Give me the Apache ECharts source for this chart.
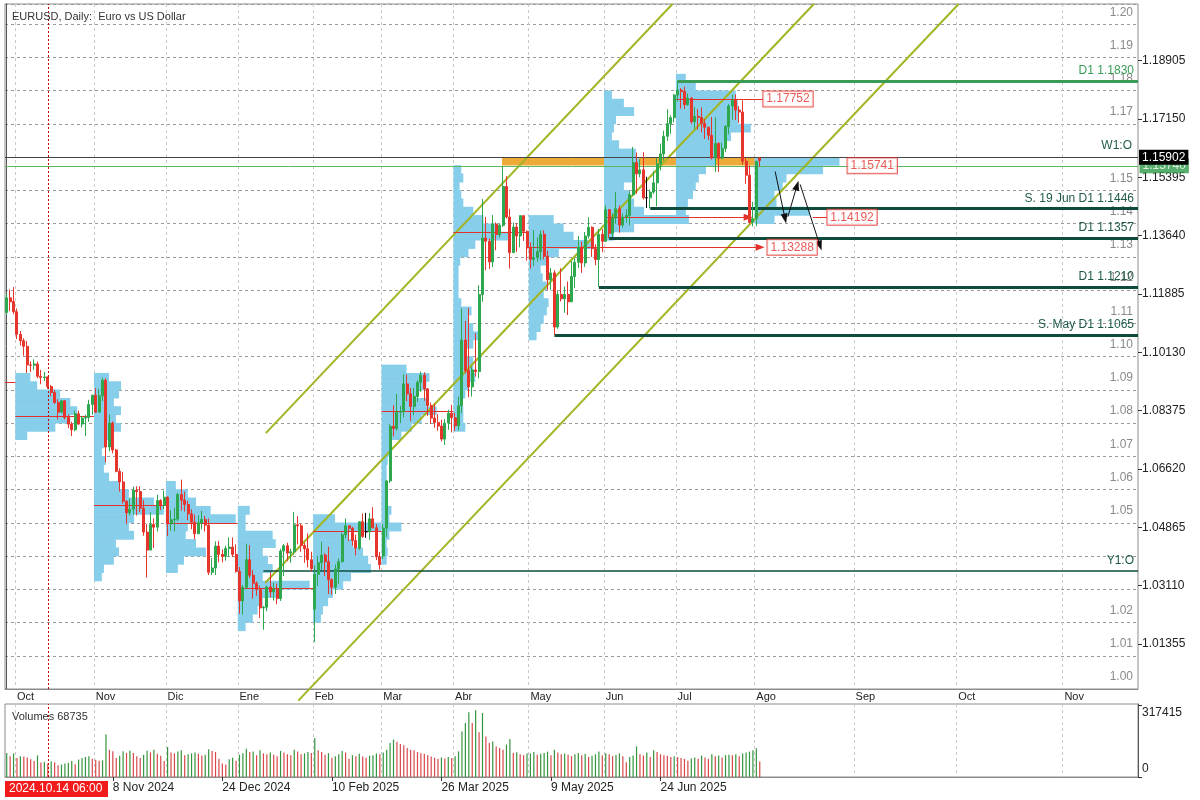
<!DOCTYPE html>
<html>
<head>
<meta charset="utf-8">
<title>EURUSD Daily</title>
<script src="https://cdn.jsdelivr.net/npm/echarts@6.0.0/dist/echarts.min.js"></script>
<style>
html,body{margin:0;padding:0;background:#ffffff;}
#chart{width:1200px;height:800px;}
</style>
</head>
<body>
<div id="chart"></div>
<script>
// ---------------- categories ----------------
const tradeStart = '2024-09-26';
const tradeEnd = '2025-08-04';
const holidays = ['2024-12-25', '2025-01-01'];
const futureStart = '2025-08-05';
const futureEnd = '2025-11-22';
const esMonths = ['Ene','Feb','Mar','Abr','May','Jun','Jul','Ago','Sep','Oct','Nov','Dic'];
const enMonths = ['Jan','Feb','Mar','Apr','May','Jun','Jul','Aug','Sep','Oct','Nov','Dec'];
const volLabelDates = ['2024-11-08','2024-12-24','2025-02-10','2025-03-26','2025-05-09','2025-06-24'];
const crosshairDate = '2024-10-14';
const crosshairText = '2024.10.14 06:00';

// ---------------- tick labels ----------------
const priceTicksRight = [1.01355,1.03110,1.04865,1.06620,1.08375,1.10130,1.11885,1.13640,1.15395,1.17150,1.18905];
const hiddenGridLabels = [1.16, 1.04, 1.03];
const volumeTicks = [0, 317415];
const volumeTitle = 'Volumes 68735';

// ---------------- daily OHLC [open, high, low, close] ----------------
const ohlc = [
// Sep 2024
[1.1133,1.1190,1.1125,1.1177],[1.1177,1.1202,1.1137,1.1165],[1.1166,1.1209,1.1128,1.1135],
// Oct 2024
[1.1135,1.1145,1.1053,1.1067],[1.1067,1.1077,1.1033,1.1048],[1.1048,1.1055,1.1003,1.1031],[1.1031,1.1047,1.0951,1.0975],
[1.0975,1.0986,1.0954,1.0974],[1.0974,1.0992,1.0960,1.0978],[1.0978,1.0985,1.0935,1.0941],[1.0941,1.0960,1.0917,1.0937],
[1.0937,1.0954,1.0927,1.0939],[1.0939,1.0940,1.0903,1.0910],[1.0910,1.0915,1.0881,1.0892],[1.0892,1.0900,1.0858,1.0862],
[1.0862,1.0872,1.0811,1.0833],[1.0833,1.0870,1.0830,1.0867],[1.0867,1.0868,1.0811,1.0817],[1.0817,1.0826,1.0785,1.0797],
[1.0797,1.0804,1.0761,1.0780],[1.0780,1.0838,1.0775,1.0828],[1.0828,1.0838,1.0795,1.0797],[1.0797,1.0822,1.0787,1.0815],
[1.0815,1.0825,1.0761,1.0817],[1.0817,1.0870,1.0804,1.0856],[1.0856,1.0885,1.0825,1.0884],
// Nov 2024
[1.0884,1.0905,1.0831,1.0833],[1.0833,1.0903,1.0833,1.0882],[1.0882,1.0937,1.0866,1.0929],[1.0929,1.0935,1.0682,1.0728],
[1.0728,1.0826,1.0715,1.0800],[1.0800,1.0805,1.0709,1.0719],[1.0719,1.0722,1.0652,1.0655],[1.0655,1.0664,1.0594,1.0623],
[1.0623,1.0653,1.0558,1.0565],[1.0565,1.0567,1.0496,1.0530],[1.0530,1.0573,1.0522,1.0541],[1.0541,1.0609,1.0524,1.0598],
[1.0598,1.0610,1.0522,1.0594],[1.0594,1.0610,1.0532,1.0544],[1.0544,1.0568,1.0461,1.0472],[1.0472,1.0496,1.0335,1.0418],
[1.0418,1.0532,1.0418,1.0495],[1.0495,1.0513,1.0424,1.0487],[1.0487,1.0585,1.0474,1.0567],[1.0567,1.0571,1.0538,1.0552],
[1.0552,1.0597,1.0541,1.0577],
// Dec 2024
[1.0577,1.0580,1.0460,1.0497],[1.0497,1.0538,1.0476,1.0509],[1.0509,1.0545,1.0474,1.0511],[1.0511,1.0590,1.0505,1.0585],
[1.0585,1.0630,1.0537,1.0568],[1.0568,1.0594,1.0534,1.0555],[1.0555,1.0566,1.0508,1.0527],[1.0527,1.0541,1.0481,1.0502],
[1.0502,1.0525,1.0450,1.0467],[1.0467,1.0523,1.0467,1.0500],[1.0500,1.0536,1.0480,1.0510],[1.0510,1.0521,1.0474,1.0493],
[1.0493,1.0513,1.0343,1.0351],[1.0351,1.0394,1.0343,1.0364],[1.0364,1.0444,1.0343,1.0430],[1.0430,1.0445,1.0381,1.0405],
[1.0405,1.0420,1.0381,1.0399],[1.0399,1.0431,1.0386,1.0423],[1.0423,1.0456,1.0398,1.0427],[1.0427,1.0456,1.0397,1.0405],
[1.0405,1.0435,1.0350,1.0354],
// Jan 2025
[1.0354,1.0367,1.0226,1.0265],[1.0265,1.0313,1.0224,1.0306],[1.0306,1.0437,1.0300,1.0389],[1.0389,1.0433,1.0334,1.0342],
[1.0342,1.0358,1.0272,1.0318],[1.0318,1.0324,1.0281,1.0299],[1.0299,1.0311,1.0214,1.0244],[1.0244,1.0250,1.0178,1.0246],
[1.0246,1.0311,1.0234,1.0307],[1.0307,1.0351,1.0276,1.0292],[1.0292,1.0320,1.0266,1.0301],[1.0301,1.0317,1.0255,1.0272],
[1.0272,1.0422,1.0265,1.0415],[1.0415,1.0436,1.0340,1.0431],[1.0431,1.0440,1.0385,1.0409],[1.0409,1.0422,1.0380,1.0413],
[1.0413,1.0533,1.0404,1.0494],[1.0494,1.0520,1.0435,1.0491],[1.0491,1.0497,1.0413,1.0432],[1.0432,1.0440,1.0380,1.0422],
[1.0422,1.0468,1.0366,1.0389],[1.0389,1.0413,1.0354,1.0362],
// Feb 2025
[1.0240,1.0372,1.0141,1.0345],[1.0345,1.0400,1.0310,1.0380],[1.0380,1.0443,1.0358,1.0403],[1.0403,1.0408,1.0340,1.0383],
[1.0383,1.0428,1.0286,1.0329],[1.0329,1.0333,1.0284,1.0306],[1.0306,1.0375,1.0286,1.0361],[1.0361,1.0393,1.0316,1.0383],
[1.0383,1.0470,1.0381,1.0464],[1.0464,1.0513,1.0453,1.0491],[1.0491,1.0492,1.0445,1.0484],[1.0484,1.0488,1.0431,1.0447],
[1.0447,1.0464,1.0402,1.0424],[1.0424,1.0505,1.0418,1.0503],[1.0503,1.0528,1.0455,1.0459],[1.0473,1.0530,1.0455,1.0473],
[1.0473,1.0529,1.0449,1.0512],[1.0512,1.0547,1.0483,1.0485],[1.0485,1.0496,1.0388,1.0398],[1.0398,1.0412,1.0359,1.0374],
// Mar 2025
[1.0400,1.0497,1.0391,1.0484],[1.0484,1.0629,1.0457,1.0626],[1.0626,1.0797,1.0620,1.0790],[1.0790,1.0854,1.0760,1.0784],
[1.0784,1.0888,1.0777,1.0833],[1.0833,1.0852,1.0800,1.0834],[1.0834,1.0947,1.0817,1.0918],[1.0918,1.0946,1.0866,1.0888],
[1.0888,1.0906,1.0806,1.0850],[1.0850,1.0906,1.0824,1.0880],[1.0880,1.0929,1.0863,1.0923],[1.0923,1.0955,1.0894,1.0944],
[1.0944,1.0953,1.0867,1.0903],[1.0903,1.0906,1.0822,1.0853],[1.0853,1.0862,1.0797,1.0815],[1.0815,1.0859,1.0786,1.0802],
[1.0802,1.0827,1.0777,1.0791],[1.0791,1.0810,1.0745,1.0752],[1.0752,1.0812,1.0734,1.0800],[1.0800,1.0840,1.0780,1.0830],
[1.0830,1.0855,1.0772,1.0816],
// Apr 2025
[1.0816,1.0831,1.0777,1.0792],[1.0792,1.0880,1.0778,1.0852],[1.0852,1.1145,1.0830,1.1050],[1.1050,1.1107,1.0950,1.0958],
[1.0958,1.1146,1.0878,1.0909],[1.0909,1.0970,1.0880,1.0960],[1.0960,1.1070,1.0940,1.0955],[1.0955,1.1215,1.0935,1.1187],
[1.1187,1.1474,1.1165,1.1357],[1.1357,1.1420,1.1260,1.1347],[1.1347,1.1356,1.1264,1.1285],[1.1285,1.1426,1.1269,1.1398],
[1.1398,1.1404,1.1320,1.1367],[1.1367,1.1400,1.1358,1.1395],[1.1395,1.1573,1.1390,1.1512],[1.1512,1.1543,1.1416,1.1420],
[1.1420,1.1445,1.1265,1.1313],[1.1313,1.1403,1.1313,1.1390],[1.1390,1.1402,1.1315,1.1363],[1.1363,1.1425,1.1329,1.1424],
[1.1424,1.1425,1.1348,1.1377],[1.1377,1.1380,1.1289,1.1327],
// May 2025
[1.1327,1.1344,1.1265,1.1293],[1.1293,1.1381,1.1273,1.1298],[1.1298,1.1359,1.1286,1.1316],[1.1316,1.1380,1.1290,1.1368],
[1.1368,1.1380,1.1293,1.1302],[1.1302,1.1318,1.1201,1.1231],[1.1231,1.1267,1.1201,1.1252],[1.1252,1.1260,1.1065,1.1089],
[1.1089,1.1197,1.1084,1.1187],[1.1187,1.1266,1.1166,1.1174],[1.1174,1.1211,1.1132,1.1187],[1.1187,1.1226,1.1125,1.1165],
[1.1165,1.1288,1.1165,1.1241],[1.1241,1.1296,1.1206,1.1284],[1.1284,1.1363,1.1267,1.1329],[1.1329,1.1346,1.1252,1.1282],
[1.1282,1.1375,1.1270,1.1363],[1.1363,1.1419,1.1355,1.1389],[1.1389,1.1392,1.1300,1.1325],[1.1325,1.1338,1.1275,1.1292],
[1.1292,1.1384,1.1210,1.1368],[1.1368,1.1384,1.1315,1.1347],
// Jun 2025
[1.1347,1.1455,1.1345,1.1442],[1.1442,1.1444,1.1357,1.1371],[1.1371,1.1431,1.1360,1.1417],[1.1417,1.1495,1.1400,1.1445],
[1.1445,1.1455,1.1373,1.1396],[1.1396,1.1431,1.1388,1.1420],[1.1420,1.1444,1.1403,1.1425],[1.1425,1.1498,1.1395,1.1487],
[1.1487,1.1631,1.1484,1.1584],[1.1584,1.1614,1.1490,1.1550],[1.1550,1.1593,1.1540,1.1562],[1.1562,1.1615,1.1473,1.1478],
[1.1478,1.1541,1.1447,1.1478],[1.1478,1.1503,1.1446,1.1495],[1.1495,1.1558,1.1490,1.1523],[1.1523,1.1597,1.1452,1.1580],
[1.1580,1.1641,1.1560,1.1610],[1.1610,1.1680,1.1590,1.1663],[1.1663,1.1744,1.1649,1.1701],[1.1701,1.1726,1.1670,1.1719],
[1.1719,1.1790,1.1705,1.1787],
// Jul 2025
[1.1787,1.1830,1.1767,1.1802],[1.1802,1.1808,1.1746,1.1798],[1.1798,1.1812,1.1745,1.1758],[1.1758,1.1792,1.1755,1.1778],
[1.1778,1.1780,1.1700,1.1707],[1.1707,1.1751,1.1684,1.1723],[1.1723,1.1745,1.1683,1.1720],[1.1720,1.1750,1.1675,1.1702],
[1.1702,1.1715,1.1655,1.1690],[1.1690,1.1692,1.1652,1.1666],[1.1666,1.1721,1.1593,1.1598],[1.1598,1.1720,1.1556,1.1641],
[1.1641,1.1645,1.1556,1.1597],[1.1597,1.1644,1.1594,1.1626],[1.1626,1.1697,1.1615,1.1692],[1.1692,1.1760,1.1669,1.1754],
[1.1754,1.1788,1.1713,1.1771],[1.1771,1.1789,1.1712,1.1742],[1.1742,1.1754,1.1703,1.1736],[1.1736,1.1771,1.1577,1.1588],
[1.1588,1.1601,1.1520,1.1546],[1.1546,1.1575,1.1400,1.1404],[1.1404,1.1466,1.1392,1.1415],
// Aug 2025
[1.1415,1.1590,1.1392,1.1587],[1.1598,1.1600,1.1572,1.15902]
];

// ---------------- daily tick volumes ----------------
const volumes = [
106000,91000,104000,
84000,92000,90000,86000,78000,70000,95000,64000,66000,60000,69000,65000,52000,55000,60000,63000,70000,56000,77000,84000,88000,92000,80000,
76000,72000,74000,187000,120000,113000,84000,94000,113000,106000,116000,106000,91000,84000,98000,116000,109000,120000,102000,94000,70000,
132000,108000,104000,112000,118000,96000,100000,104000,108000,103000,95000,98000,122000,115000,110000,80000,60000,55000,78000,85000,72000,
98000,105000,125000,110000,112000,96000,118000,104000,100000,108000,98000,92000,115000,108000,100000,96000,120000,112000,100000,104000,110000,106000,
172000,118000,110000,98000,105000,85000,92000,100000,115000,108000,80000,96000,92000,102000,90000,85000,94000,96000,104000,100000,
108000,120000,150000,165000,155000,145000,140000,128000,120000,118000,110000,105000,102000,96000,90000,85000,80000,86000,82000,88000,84000,
91000,113000,201000,238000,285000,238000,294000,197000,282000,179000,150000,157000,135000,128000,120000,143000,168000,106000,109000,100000,96000,104000,
104000,110000,98000,102000,106000,112000,96000,120000,108000,100000,104000,98000,92000,100000,106000,96000,102000,88000,94000,100000,112000,96000,
105000,100000,92000,97000,104000,91000,65000,88000,95000,135000,100000,95000,108000,88000,118000,110000,100000,96000,94000,88000,92000,
88000,84000,80000,72000,82000,86000,80000,94000,86000,80000,100000,92000,95000,86000,96000,98000,96000,100000,92000,104000,108000,112000,118000,
127000,68735
];

// ---------------- monthly volume profiles (bin widths in bars, bins of PROFILE_STEP) ----------------
const PROFILE_STEP = 0.0025;
const profileStarts = ['2024-10-01','2024-11-01','2024-12-02','2025-01-02','2025-02-03','2025-03-03','2025-04-01','2025-05-01','2025-06-02','2025-07-01','2025-08-01'];
const profileLows = [1.075,1.0325,1.035,1.0175,1.02,1.0375,1.0775,1.105,1.135,1.14,1.14];
const profileWidths = [
[3.5,11.7,16.1,18.1,16.1,13.1,6.4,4.4],
[2.3,2.9,5.8,7.3,6.4,11.7,10.2,11.7,20.4,17.5,10.2,7.3,4.4,2.9,3.5,2.3,2.9,5.8,7.9,6.4,7.9,5.8,7.3,7.9,4.4],
[3.5,5.3,11.7,8.8,5.8,6.4,20.4,13.1,8.8,6.4,2.9],
[2.3,4.4,5.8,7.3,11.7,21.0,7.3,10.2,8.8,7.3,11.1,10.2,2.3,2.3,3.5],
[2.3,2.9,4.4,5.8,8.8,11.1,16.9,16.1,14.6,11.7,10.2,19.9,6.4],
[1.5,1.8,1.5,2.3,5.8,2.3,2.9,1.8,1.5,1.5,1.5,1.5,1.8,2.3,2.9,5.8,8.8,11.7,16.1,13.1,10.2,13.1,14.0,7.3],
[3.5,2.9,2.9,2.3,3.5,4.4,6.4,5.8,5.8,3.5,5.8,7.3,5.8,4.4,5.3,2.3,1.5,1.5,1.5,1.5,2.0,4.4,6.4,16.1,13.1,8.8,5.8,2.9,2.3,1.8,2.9,2.3],
[2.3,3.5,4.4,5.3,5.8,4.4,5.3,4.1,3.5,5.3,8.8,19.0,13.1,10.2,7.3],
[2.9,8.8,24.8,11.7,8.8,7.3,5.8,8.8,8.8,10.2,9.3,4.4,2.3,2.9,3.5,8.8,5.8,2.3],
[2.3,2.9,3.5,5.0,5.8,6.7,8.8,11.7,13.1,14.0,16.1,21.9,18.1,18.4,18.1,17.5,5.8,2.9],
[5.8,16.1,6.4,5.8,8.2,9.3,20.0,24.8]
];

// monthly points of control
const pocStarts = ['2024-09-26','2024-10-01','2024-11-01','2024-12-02','2025-01-02','2025-02-03','2025-03-03','2025-04-01'];
const pocPrices = [1.0924,1.0820,1.0552,1.0499,1.0302,1.0475,1.0837,1.1374];
// naked POC drawings
const nakedPocStarts = ['2025-05-01','2025-06-02','2025-07-01','2025-08-01'];
const nakedPocPrices = [1.13288,1.14192,1.17752,1.15741];
const nakedPocEnds = [220.1,216.6,220.9,245.5];
const nakedPocArrow = [true,true,false,false];
const pocBoxAt = [222.1,239.6,220.9,245.5];

// support / reference levels
const levelLabels = ['D1 1.1830','S. 19 Jun D1 1.1446','D1 1.1357','D1 1.1210','S. May D1 1.1065','Y1:O'];
const levelPrices = [1.1830,1.1446,1.1357,1.1210,1.1065,1.0357];
const levelStarts = ['2025-07-01','2025-06-19','2025-06-03','2025-05-29','2025-05-12','2025-01-13'];

// channel drawing anchors [barIndex, price]
const channelUpper = [[75.7,1.0770],[194.5,1.2061]];
const channelMiddle = [[75.5,1.0319],[235.8,1.2061]];
const channelLower = [[85.2,0.9965],[278.1,1.2061]];
// zone drawing
const zoneBars = [144.7,229.4];
const zonePrices = [1.1575,1.1600];
// scenario arrows [bar1, price1, bar2, price2]
const arrowSegments = [[224.5,1.1557,227.4,1.1415],[228.2,1.1421,230.9,1.1515],[231.8,1.1518,237.6,1.1334]];
const connector1419 = [235.5,239.6];
const lastPrice = 1.15902;
const weekLine = 1.1574;

// ---------------- build categories ----------------
function ymd(d){ return d.toISOString().slice(0,10); }
const cats = [];
for (let d = new Date(tradeStart+'T00:00:00Z'); ymd(d) <= tradeEnd; d.setUTCDate(d.getUTCDate()+1)) {
  const wd = d.getUTCDay();
  if (wd === 0 || wd === 6) continue;
  if (holidays.indexOf(ymd(d)) >= 0) continue;
  cats.push(ymd(d));
}
for (let d = new Date(futureStart+'T00:00:00Z'); ymd(d) <= futureEnd; d.setUTCDate(d.getUTCDate()+1)) cats.push(ymd(d));
const N = cats.length;
const idxOf = s => cats.indexOf(s);
const isMonthStart = cats.map((c,i) => i > 0 && c.slice(0,7) !== cats[i-1].slice(0,7));
const volLabelSet = new Set(volLabelDates);

const UP = '#2ea84e', DN = '#e5352c';
const LEVEL_DARK = '#0f4b3c';
const FONT = '"Liberation Sans", Arial, sans-serif';
const PRICE_MIN = 1.00, PRICE_MAX = 1.2061;
const VOL_MAX = 317415 * 73 / 72;

// candles
const candleData = ohlc.map(r => {
  const v = [r[0], r[3], r[2], r[1]];
  if (r[0] === r[3]) return {value: v, itemStyle: {color:'#000', color0:'#000', borderColor:'#000', borderColor0:'#000'}};
  return v;
});

// profiles
const profData = [];
profileStarts.forEach((s,k) => {
  const x0 = idxOf(s) - 0.5;
  profileWidths[k].forEach((w,j) => profData.push([x0, profileLows[k] + j*PROFILE_STEP, w]));
});

// level markLines
const levelLines = levelPrices.map((p,k) => {
  const isY = levelLabels[k] === 'Y1:O';
  const isTop = k === 0;
  const col = isTop ? '#3a9b57' : LEVEL_DARK;
  return [
    {coord:[idxOf(levelStarts[k]), p],
     lineStyle:{color: col, width: isY ? 1.5 : 3, type:'solid'},
     label:{show:true, position:'insideEndTop', formatter: levelLabels[k], color: isTop ? '#3a9b57' : '#1f5a4b', fontSize:12, fontFamily:FONT, distance:4}},
    {coord:[N-0.5, p]}
  ];
});

// POC lines
const pocLines = pocPrices.map((p,k) => {
  const s = k === 0 ? -0.5 : idxOf(pocStarts[k]) - 0.5;
  const e = k+1 < pocStarts.length ? idxOf(pocStarts[k+1]) - 0.5 : idxOf(nakedPocStarts[0]) - 0.5;
  return [{coord:[s,p]},{coord:[e,p]}];
});
nakedPocPrices.forEach((p,k) => {
  pocLines.push([
    {coord:[idxOf(nakedPocStarts[k]) - 0.5, p], symbol:'none'},
    {coord:[nakedPocEnds[k], p], symbol: nakedPocArrow[k] ? 'triangle' : 'none', symbolSize:[7,9]}
  ]);
});
pocLines.push([{coord:[connector1419[0], nakedPocPrices[1]], symbol:'none'},{coord:[connector1419[1], nakedPocPrices[1]], symbol:'none'}]);

const arrowLines = arrowSegments.map(a => [
  {coord:[a[0],a[1]], symbol:'none'},
  {coord:[a[2],a[3]], symbol:'triangle', symbolSize:[7,10]}
]);

const chart = echarts.init(document.getElementById('chart'), null, {renderer:'canvas'});
const option = {
  animation:false,
  backgroundColor:'#ffffff',
  textStyle:{fontFamily:FONT},
  title:[
    {text:'EURUSD, Daily:  Euro vs US Dollar', left:7, top:6, textStyle:{fontSize:11, fontWeight:'normal', color:'#333', fontFamily:FONT}},
    {text:volumeTitle, left:7, top:706, textStyle:{fontSize:11, fontWeight:'normal', color:'#333', fontFamily:FONT}}
  ],
  grid:[
    {left:5, top:4, right:62, height:685, show:true, borderColor:'#8c8c8c', borderWidth:1, backgroundColor:'#fff'},
    {left:5, top:704, right:62, height:73, show:true, borderColor:'#8c8c8c', borderWidth:1, backgroundColor:'#fff'}
  ],
  xAxis:[
    {type:'category', gridIndex:0, data:cats, boundaryGap:true,
     axisLine:{show:true, lineStyle:{color:'#8c8c8c'}},
     axisTick:{show:false},
     axisLabel:{interval:(i)=>isMonthStart[i], formatter:(v)=>esMonths[parseInt(v.slice(5,7),10)-1], align:'left', margin:2, color:'#222', fontSize:11},
     splitLine:{show:true, interval:(i)=>isMonthStart[i], lineStyle:{color:'#c8c8c8', type:[3,3], width:1}}},
    {type:'value', gridIndex:0, min:-0.5, max:N-0.5, show:false},
    {type:'category', gridIndex:1, data:cats, boundaryGap:true,
     axisLine:{show:true, lineStyle:{color:'#8c8c8c'}},
     axisTick:{show:true, interval:(i)=>volLabelSet.has(cats[i]), alignWithLabel:true, length:4, lineStyle:{color:'#333'}},
     axisLabel:{interval:(i)=>volLabelSet.has(cats[i]), formatter:(v)=>{const p=v.split('-'); return parseInt(p[2],10)+' '+enMonths[parseInt(p[1],10)-1]+' '+p[0];}, align:'left', margin:5, color:'#222', fontSize:12},
     splitLine:{show:true, interval:(i)=>isMonthStart[i], lineStyle:{color:'#c8c8c8', type:[3,3], width:1}}}
  ],
  yAxis:[
    {type:'value', gridIndex:0, position:'right', min:PRICE_MIN, max:PRICE_MAX, interval:0.01, scale:true,
     axisLine:{show:true, lineStyle:{color:'#555'}},
     axisTick:{show:false},
     axisLabel:{inside:true, margin:5, verticalAlign:'bottom', padding:[0,0,6,0], color:'#8a8a8a', fontSize:12,
       formatter:(v)=>{const k=Math.round(v*100); if (Math.abs(v*100-k)>1e-6) return ''; if (hiddenGridLabels.some(h=>Math.round(h*100)===k)) return ''; return (k/100).toFixed(2);}},
     splitLine:{show:true, lineStyle:{color:'#9a9a9a', type:[3,3], width:1}}},
    {type:'value', gridIndex:0, position:'right', min:PRICE_MIN, max:PRICE_MAX, scale:true,
     axisLine:{show:false},
     axisTick:{show:true, customValues:priceTicksRight, length:4, lineStyle:{color:'#333'}},
     axisLabel:{show:true, customValues:priceTicksRight, formatter:(v)=>v.toFixed(5), margin:4, color:'#222', fontSize:12},
     splitLine:{show:false}},
    {type:'value', gridIndex:1, position:'right', min:0, max:VOL_MAX,
     axisLine:{show:true, lineStyle:{color:'#555'}},
     axisTick:{show:true, customValues:volumeTicks, length:4, lineStyle:{color:'#333'}},
     axisLabel:{show:true, customValues:volumeTicks, margin:4, color:'#222', fontSize:12,
       formatter:(v)=> v === 0 ? '{lo|0}' : '{hi|' + String(v) + '}',
       rich:{lo:{padding:[0,0,16,0], fontSize:12, color:'#222'}, hi:{padding:[16,0,0,0], fontSize:12, color:'#222'}}},
     splitLine:{show:false}}
  ],
  series:[
    {type:'custom', name:'profiles', xAxisIndex:1, yAxisIndex:0, z:1, silent:true, clip:true,
     encode:{x:0, y:1},
     renderItem:(params, api)=>{
       const x0=api.value(0), y0=api.value(1), w=api.value(2);
       const a=api.coord([x0,y0]); const b=api.coord([x0+w,y0+PROFILE_STEP]);
       return {type:'rect', shape:{x:a[0], y:b[1]-0.3, width:b[0]-a[0], height:a[1]-b[1]+0.6}, style:{fill:'#87ceeb'}};
     },
     data:profData},
    {type:'line', name:'chanU', xAxisIndex:1, yAxisIndex:0, z:3, data:channelUpper, symbol:'none', silent:true,
     lineStyle:{color:'#a3b522', width:2},
     markLine:{silent:true, symbol:['none','none'], animation:false, data:levelLines}},
    {type:'line', name:'chanM', xAxisIndex:1, yAxisIndex:0, z:3, data:channelMiddle, symbol:'none', silent:true,
     lineStyle:{color:'#a3b522', width:2},
     markLine:{silent:true, symbol:['none','none'], animation:false, label:{show:false},
       lineStyle:{color:'#e3302a', width:1, type:'solid'}, data:pocLines}},
    {type:'line', name:'chanL', xAxisIndex:1, yAxisIndex:0, z:3, data:channelLower, symbol:'none', silent:true, clip:false,
     lineStyle:{color:'#a3b522', width:2},
     markArea:{silent:true, itemStyle:{color:'rgba(236,158,28,0.88)'}, data:[[{coord:[zoneBars[0], zonePrices[0]]},{coord:[zoneBars[1], zonePrices[1]]}]]},
     markLine:{silent:true, symbol:['none','none'], animation:false, label:{show:false},
       data:[[{coord:[-0.5, weekLine], lineStyle:{color:'#5cb860', width:1, type:'solid'}},{coord:[N-0.5, weekLine]}]]}},
    {type:'scatter', name:'weekBox', xAxisIndex:1, yAxisIndex:0, z:4, symbolSize:1, silent:true, clip:false,
     itemStyle:{color:'rgba(0,0,0,0)'},
     labelLayout:{hideOverlap:false},
     data:[[N-0.5, weekLine]],
     label:{show:true, position:'right', distance:1, formatter:(p)=>p.value[1].toFixed(5), backgroundColor:'#2e9a48', color:'#fff', padding:[2,3,1,3], fontSize:12}},
    {type:'line', name:'arrows', xAxisIndex:1, yAxisIndex:0, z:6, data:[], symbol:'none', silent:true,
     markLine:{silent:true, animation:false, label:{show:false}, lineStyle:{color:'#111', width:1, type:'solid'}, data:arrowLines}},
    {type:'candlestick', name:'EURUSD', xAxisIndex:0, yAxisIndex:0, z:5, barWidth:2.5, data:candleData,
     itemStyle:{color:UP, color0:DN, borderColor:UP, borderColor0:DN, borderWidth:1},
     markLine:{silent:true, symbol:['none','none'], animation:false,
       data:[
         {xAxis:crosshairDate, lineStyle:{color:'#c00000', type:[2,2], width:1}, label:{show:false}},
         {yAxis:lastPrice, lineStyle:{color:'rgba(0,0,0,0)', width:1, type:'solid'},
          label:{show:true, position:'insideEndTop', formatter:'W1:O', color:'#1f5a4b', fontSize:12, distance:6}},
         {yAxis:lastPrice, lineStyle:{color:'#444', width:1, type:'solid'},
          label:{show:true, position:'end', formatter:lastPrice.toFixed(5), backgroundColor:'#000', color:'#fff', padding:[2,3,1,3], fontSize:12, distance:1}}
       ]}},
    {type:'scatter', name:'pocBoxes', xAxisIndex:1, yAxisIndex:0, z:8, symbolSize:1, silent:true,
     itemStyle:{color:'rgba(0,0,0,0)'},
     labelLayout:{hideOverlap:false},
     data: pocBoxAt.map((b,k)=>[b, nakedPocPrices[k]]),
     label:{show:true, position:'right', distance:0, formatter:(p)=>p.value[1].toFixed(5), color:'#e3302a', backgroundColor:'#fff',
            borderColor:'#e3302a', borderWidth:1, padding:[2,3,1,3], fontSize:12}},
    {type:'bar', name:'Volumes', xAxisIndex:2, yAxisIndex:2, barWidth:1.2, data:volumes, silent:true,
     itemStyle:{color:(p)=> (p.dataIndex === 0 || volumes[p.dataIndex] >= volumes[p.dataIndex-1]) ? '#34953f' : '#d9474a'},
     markLine:{silent:true, symbol:['none','none'], animation:false, label:{show:false},
       data:[{xAxis:crosshairDate, lineStyle:{color:'#c00000', type:[2,2], width:1}}]}}
  ],
  graphic:[
    {type:'group', left:5, top:781, z:100, children:[
      {type:'rect', shape:{x:0, y:0, width:103, height:16}, style:{fill:'#f21b1b'}},
      {type:'text', x:4, y:2, style:{text:crosshairText, fill:'#fff', font:'12px "Liberation Sans", Arial, sans-serif'}}
    ]}
  ]
};
chart.setOption(option);
</script>
</body>
</html>
